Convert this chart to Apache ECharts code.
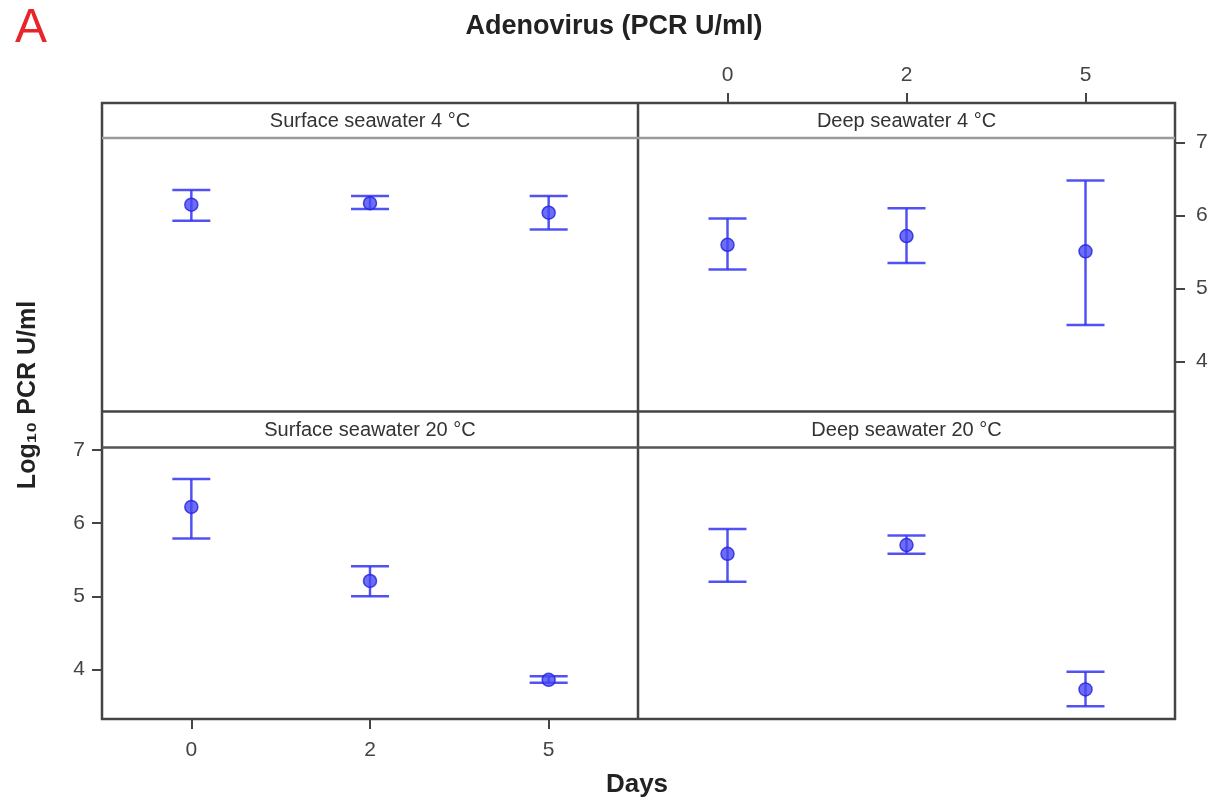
<!DOCTYPE html>
<html>
<head>
<meta charset="utf-8">
<script src="https://cdn.jsdelivr.net/npm/echarts@6/dist/echarts.min.js"></script>
<style>html,body{margin:0;padding:0;background:#fff}#c{width:1212px;height:799px}</style>
</head>
<body>
<div id="c"></div>
<script>
const days = ['0', '2', '5'];
const yTicks = [4, 5, 6, 7];
const panelTitles = ['Surface seawater 4 \u00B0C', 'Deep seawater 4 \u00B0C', 'Surface seawater 20 \u00B0C', 'Deep seawater 20 \u00B0C'];
const meanS4 = [6.15, 6.17, 6.04];
const lowS4 = [5.93, 6.09, 5.81];
const highS4 = [6.35, 6.27, 6.27];
const meanD4 = [5.60, 5.72, 5.51];
const lowD4 = [5.26, 5.35, 4.50];
const highD4 = [5.96, 6.10, 6.48];
const meanS20 = [6.22, 5.21, 3.86];
const lowS20 = [5.79, 5.00, 3.82];
const highS20 = [6.60, 5.41, 3.91];
const meanD20 = [5.58, 5.70, 3.73];
const lowD20 = [5.20, 5.58, 3.50];
const highD20 = [5.92, 5.83, 3.97];
const chartTitle = 'Adenovirus (PCR U/ml)';
const yName = 'Log\u2081\u2080 PCR U/ml';
const xName = 'Days';

const means = [meanS4, meanD4, meanS20, meanD20];
const lows = [lowS4, lowD4, lowS20, lowD20];
const highs = [highS4, highD4, highS20, highD20];

const L = 102, M = 638, R = 1175, T = 103, H1 = 138, MID = 411.5, H2 = 447.5, B = 719;
const grids = [
  {left: L, top: H1, width: M - L, height: MID - H1},
  {left: M, top: H1, width: R - M, height: MID - H1},
  {left: L, top: H2, width: M - L, height: B - H2},
  {left: M, top: H2, width: R - M, height: B - H2}
];
const yRanges = [[3.315, 7.064], [3.315, 7.064], [3.326, 7.031], [3.326, 7.031]];
const blue = '#3434f0';
const labelStyle = {color: '#444', fontSize: 21, fontFamily: '"Liberation Sans", sans-serif'};

const xAxis = grids.map((g, i) => {
  const ax = {type: 'category', gridIndex: i, data: days, boundaryGap: true, show: false};
  if (i === 1) {
    Object.assign(ax, {show: true, position: 'top', offset: 35,
      axisLine: {show: false}, axisTick: {show: true, length: 10, alignWithLabel: true, lineStyle: {color: '#444', width: 2}},
      axisLabel: Object.assign({margin: 17}, labelStyle)});
  }
  if (i === 2) {
    Object.assign(ax, {show: true, position: 'bottom',
      axisLine: {show: false}, axisTick: {show: true, length: 10, alignWithLabel: true, lineStyle: {color: '#444', width: 2}},
      axisLabel: Object.assign({margin: 21}, labelStyle)});
  }
  return ax;
});
const yAxis = grids.map((g, i) => {
  const ax = {type: 'value', gridIndex: i, min: yRanges[i][0], max: yRanges[i][1], show: false, splitLine: {show: false}};
  if (i === 1 || i === 2) {
    Object.assign(ax, {show: true, position: i === 1 ? 'right' : 'left',
      axisLine: {show: false},
      axisTick: {show: true, length: 10, customValues: yTicks, lineStyle: {color: '#444', width: 2}},
      axisLabel: Object.assign({margin: i === 1 ? 21 : 17, customValues: yTicks}, labelStyle)});
  }
  return ax;
});

const series = [];
for (let i = 0; i < 4; i++) {
  series.push({
    type: 'custom', xAxisIndex: i, yAxisIndex: i,
    data: days.map((d, k) => [k, lows[i][k], highs[i][k]]),
    renderItem: function (params, api) {
      const x = api.value(0);
      const pLow = api.coord([x, api.value(1)]);
      const pHigh = api.coord([x, api.value(2)]);
      const hw = 19;
      const style = {stroke: blue, lineWidth: 2.5, opacity: 0.85};
      return {type: 'group', children: [
        {type: 'line', shape: {x1: pLow[0], y1: pLow[1], x2: pHigh[0], y2: pHigh[1]}, style: style},
        {type: 'line', shape: {x1: pLow[0] - hw, y1: pLow[1], x2: pLow[0] + hw, y2: pLow[1]}, style: style},
        {type: 'line', shape: {x1: pHigh[0] - hw, y1: pHigh[1], x2: pHigh[0] + hw, y2: pHigh[1]}, style: style}
      ]};
    },
    z: 2
  });
  series.push({
    type: 'scatter', xAxisIndex: i, yAxisIndex: i,
    data: days.map((d, k) => [k, means[i][k]]),
    symbol: 'circle', symbolSize: 13,
    itemStyle: {color: '#4848f4', borderColor: '#2020e0', borderWidth: 1.5},
    z: 3
  });
}

const graphic = [
  {type: 'rect', shape: {x: L, y: T, width: R - L, height: B - T}, style: {fill: 'none', stroke: '#444', lineWidth: 2.5}, z: 10},
  {type: 'line', shape: {x1: M, y1: T, x2: M, y2: B}, style: {stroke: '#444', lineWidth: 2.5}, z: 10},
  {type: 'line', shape: {x1: L, y1: MID, x2: R, y2: MID}, style: {stroke: '#444', lineWidth: 2.5}, z: 10},
  {type: 'line', shape: {x1: L, y1: H1, x2: R, y2: H1}, style: {stroke: '#9a9a9a', lineWidth: 2.5}, z: 10},
  {type: 'line', shape: {x1: L, y1: H2, x2: R, y2: H2}, style: {stroke: '#555', lineWidth: 2.5}, z: 10},
  {type: 'text', x: 614, y: 27, style: {text: chartTitle, fill: '#222', font: 'bold 27px "Liberation Sans", sans-serif', textAlign: 'center', textVerticalAlign: 'middle'}},
  {type: 'text', x: 15, y: 29, style: {text: 'A', fill: '#e8252a', font: '48px "Liberation Sans", sans-serif', textAlign: 'left', textVerticalAlign: 'middle'}},
  {type: 'text', x: 28, y: 395, rotation: Math.PI / 2, style: {text: yName, fill: '#222', font: 'bold 25px "Liberation Sans", sans-serif', textAlign: 'center', textVerticalAlign: 'middle'}},
  {type: 'text', x: 637, y: 785, style: {text: xName, fill: '#222', font: 'bold 26px "Liberation Sans", sans-serif', textAlign: 'center', textVerticalAlign: 'middle'}}
];
const headerCenters = [[(L + M) / 2, (T + H1) / 2], [(M + R) / 2, (T + H1) / 2], [(L + M) / 2, (MID + H2) / 2], [(M + R) / 2, (MID + H2) / 2]];
panelTitles.forEach((t, i) => {
  graphic.push({type: 'text', x: headerCenters[i][0], y: headerCenters[i][1] + 1, style: {text: t, fill: '#333', font: '20px "Liberation Sans", sans-serif', textAlign: 'center', textVerticalAlign: 'middle'}, z: 11});
});

const chart = echarts.init(document.getElementById('c'), null, {renderer: 'canvas'});
chart.setOption({
  animation: false,
  backgroundColor: '#fff',
  grid: grids,
  xAxis: xAxis,
  yAxis: yAxis,
  series: series,
  graphic: graphic
});
</script>
</body>
</html>
